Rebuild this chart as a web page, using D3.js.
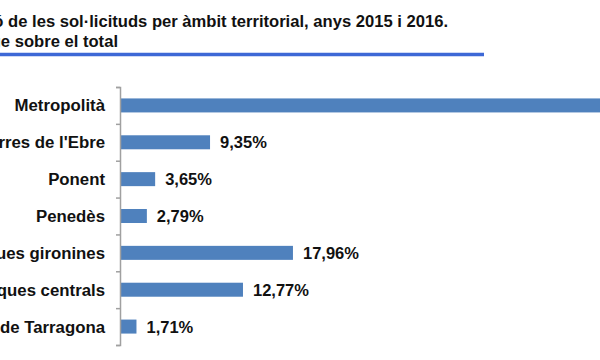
<!DOCTYPE html>
<html><head><meta charset="utf-8">
<script src="https://cdn.jsdelivr.net/npm/d3@7"></script>
<style>body{margin:0;background:#fff}svg{display:block}text{font-family:"Liberation Sans",Arial,sans-serif;font-weight:bold}</style>
</head><body><svg id="c" width="600" height="360"></svg>
<script>
const categories = ["Metropolità","Terres de l'Ebre","Ponent","Penedès","Comarques gironines","Comarques centrals","Camp de Tarragona"];
const values = [51.77, 9.35, 3.65, 2.79, 17.96, 12.77, 1.71];
const titleLines = ["Gràfic 2. Distribució de les sol·licituds per àmbit territorial, anys 2015 i 2016.","Percentatge sobre el total"];

const svg = d3.select("#c");
const x = d3.scaleLinear().domain([0, 60]).range([120, 120 + 60 * 9.63]);
const y = d3.scaleBand().domain(categories).range([87, 345]).paddingInner(0.62).paddingOuter(0.31);

svg.append("text").attr("x", 448).attr("y", 27).attr("text-anchor", "end").attr("font-size", 16.6).attr("fill", "#111").text(titleLines[0]);
svg.append("text").attr("x", 118).attr("y", 46.5).attr("text-anchor", "end").attr("font-size", 16.6).attr("fill", "#111").text(titleLines[1]);
svg.append("line").attr("x1", 0).attr("x2", 484).attr("y1", 54.5).attr("y2", 54.5).attr("stroke", "#3d68d6").attr("stroke-width", 3.5);

svg.selectAll("rect.bar").data(values).join("rect").attr("class","bar")
  .attr("x", x(0)).attr("y", (d,i) => y(categories[i]))
  .attr("width", d => x(d) - x(0)).attr("height", y.bandwidth())
  .attr("fill", "#4f81bd");

const yAxis = d3.axisLeft(d3.scaleLinear().domain([0,7]).range([87,345])).ticks(7).tickSize(4).tickFormat("");
const g = svg.append("g").attr("transform", `translate(${x(0)},0)`).call(yAxis);
g.select(".domain").attr("stroke", "#a0a0a0").attr("stroke-width", 1.5);
g.selectAll(".tick line").attr("stroke", "#a0a0a0").attr("stroke-width", 1.5);

svg.selectAll("text.cat").data(categories).join("text").attr("class","cat")
  .attr("x", 105).attr("y", d => y(d) + y.bandwidth()/2 + 6)
  .attr("text-anchor","end").attr("font-size", 16.8).attr("fill","#111").text(d => d);

svg.selectAll("text.val").data(values).join("text").attr("class","val")
  .attr("x", d => x(d) + 10).attr("y", (d,i) => y(categories[i]) + y.bandwidth()/2 + 6)
  .attr("font-size", 16.5).attr("fill","#111")
  .text(d => d.toFixed(2).replace(".", ",") + "%");
</script></body></html>
